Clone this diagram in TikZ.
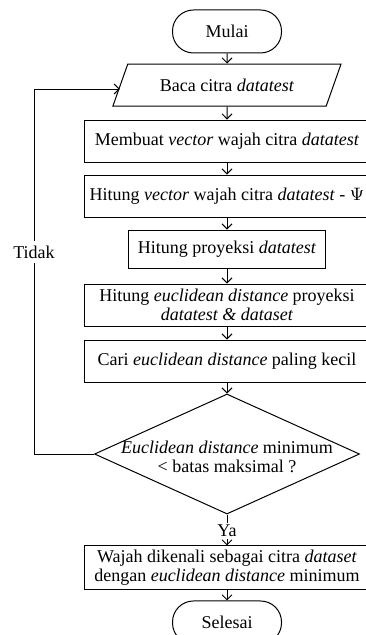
\documentclass[tikz,border=0pt]{standalone}
\usepackage{fontspec}
\setmainfont{Liberation Serif}
\usetikzlibrary{shapes.geometric, arrows.meta, positioning}

\begin{document}
\begin{tikzpicture}[node distance=6pt, >={Straight Barb[length=2.5pt,width=5pt]}, font=\fontsize{9}{9.5}\selectfont, line width=0.5pt,
    terminal/.style={draw, rectangle, rounded corners=10.5pt, minimum width=54.5pt, minimum height=21.5pt},
    io/.style={draw, trapezium, trapezium left angle=67, trapezium right angle=113, trapezium stretches=true, minimum width=115pt, minimum height=21pt},
    process/.style={draw, rectangle, minimum width=142.5pt, minimum height=21pt, align=center, inner sep=1pt},
    decision/.style={draw, diamond, minimum width=132.5pt, minimum height=60pt, inner sep=0pt}]
        \useasboundingbox (0,0) rectangle (182.5pt,-317.5pt);

        \node [terminal] (mulai) at (113.5pt,-15.75pt) {Mulai};
        \node [io, below=5pt of mulai] (baca) {Baca citra \textit{datatest}};
        \node [process, below=6.5pt of baca] (vektor) {Membuat \textit{vector} wajah citra \textit{datatest}};
        \node [process, below=of vektor] (selisih) {Hitung \textit{vector} wajah citra \textit{datatest} - $\Psi$};
        \node [process, below=of selisih, minimum width=98.5pt, minimum height=19pt] (proyeksi) {Hitung proyeksi \textit{datatest}};
        \node [process, below=7.5pt of proyeksi] (jarak) {Hitung \textit{euclidean distance} proyeksi\\ \textit{datatest \& dataset}};
        \node [process, below=6.5pt of jarak] (minjarak) {Cari \textit{euclidean distance} paling kecil};
        \node [decision, below=5.5pt of minjarak, label={[align=center, yshift=-1.5pt]center:\textit{Euclidean distance} minimum\\ < batas maksimal ?}] (cek) {};
        \node [below=4pt of cek, inner sep=1pt] (ya) {Ya};
        \node [process, below=3pt of ya, minimum height=22pt] (kenali) {Wajah dikenali sebagai citra \textit{dataset}\\ dengan \textit{euclidean distance} minimum};
        \node [terminal, below=5pt of kenali] (selesai) {Selesai};

        \draw [->] (mulai) -- (baca);
        \draw [->] (baca) -- (vektor);
        \draw [->] (vektor) -- (selisih);
        \draw [->] (selisih) -- (proyeksi);
        \draw [->] (proyeksi) -- (jarak);
        \draw [->] (jarak) -- (minjarak);
        \draw [->] (minjarak) -- (cek);
        \draw (cek) -- (ya);
        \draw [->] (ya) -- (kenali);
        \draw [->] (kenali) -- (selesai);

        % kembali ke baca citra
        \node [inner sep=2pt] (tidak) at (17pt,-126pt) {Tidak};
        \draw (cek.west) -| (tidak.south);
        \draw [->] (tidak.north) |- ([yshift=-2pt]baca.west);
    \end{tikzpicture}
\end{document}
